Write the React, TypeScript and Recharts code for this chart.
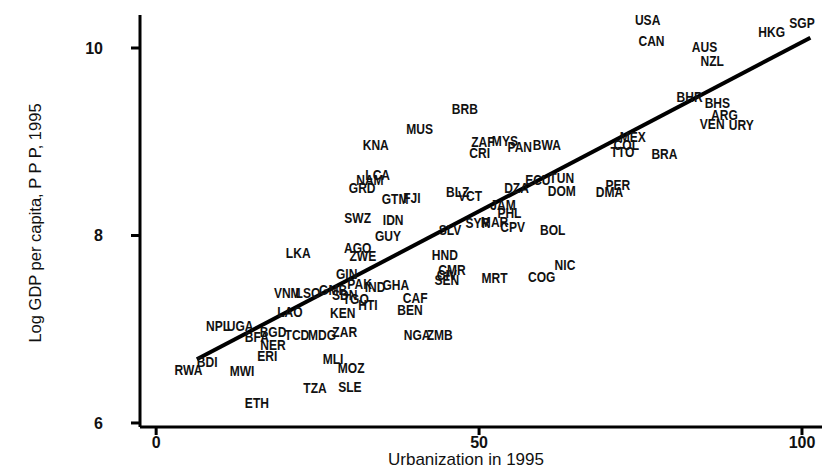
import { ComposedChart, Scatter, Line, XAxis, YAxis } from 'recharts';

// Country codes placed at (urbanization %, log GDP per capita PPP), 1995
const codes = [
  'USA', 'CAN', 'AUS', 'NZL', 'HKG', 'SGP', 'BHR', 'BHS', 'ARG', 'VEN',
  'URY', 'MEX', 'COL', 'TTO', 'BRA', 'PER', 'DMA', 'BRB', 'MUS', 'KNA',
  'ZAF', 'MYS', 'CRI', 'PAN', 'BWA', 'LCA', 'NAM', 'GRD', 'GTM', 'FJI',
  'BLZ', 'VCT', 'DZA', 'ECU', 'TUN', 'DOM', 'JAM', 'PHL', 'CPV', 'SYR',
  'MAR', 'SLV', 'BOL', 'SWZ', 'IDN', 'GUY', 'LKA', 'AGO', 'ZWE', 'HND',
  'CMR', 'CIV', 'SEN', 'MRT', 'COG', 'NIC', 'CAF', 'BEN', 'GIN', 'VNM',
  'LSO', 'GMB', 'PAK', 'IND', 'GHA', 'SDN', 'TGO', 'HTI', 'KEN', 'LAO',
  'NPL', 'UGA', 'BFA', 'BGD', 'TCD', 'MDG', 'ZAR', 'NER', 'ERI', 'BDI',
  'RWA', 'MWI', 'MLI', 'MOZ', 'SLE', 'TZA', 'ETH', 'NGA', 'ZMB',
];

const urbanization = [
  76.1, 76.7, 84.9, 86.1, 95.3, 100.0, 82.6, 86.9, 88.0, 86.1,
  90.6, 73.8, 72.8, 72.2, 78.7, 71.5, 70.2, 47.8, 40.8, 34.0,
  50.6, 54.0, 50.1, 56.3, 60.5, 34.3, 33.1, 31.9, 37.0, 39.6,
  46.7, 48.6, 55.8, 59.1, 62.8, 62.8, 53.7, 54.7, 55.2, 49.8,
  52.4, 45.5, 61.4, 31.2, 36.7, 35.9, 22.0, 31.2, 32.0, 44.7,
  45.8, 45.0, 45.0, 52.4, 59.7, 63.3, 40.1, 39.3, 29.5, 20.3,
  23.5, 27.4, 31.5, 33.9, 37.1, 29.2, 30.9, 32.8, 28.9, 20.7,
  9.6, 13.0, 15.6, 18.1, 21.8, 25.7, 29.2, 18.1, 17.2, 7.9,
  5.0, 13.3, 27.4, 30.2, 30.0, 24.6, 15.6, 40.4, 43.9,
];

const logGdp = [
  10.30, 10.07, 10.01, 9.86, 10.17, 10.27, 9.48, 9.41, 9.29, 9.19,
  9.18, 9.05, 8.97, 8.89, 8.87, 8.54, 8.46, 9.35, 9.14, 8.97,
  9.00, 9.01, 8.88, 8.94, 8.97, 8.65, 8.59, 8.51, 8.39, 8.40,
  8.46, 8.42, 8.51, 8.59, 8.61, 8.47, 8.33, 8.24, 8.09, 8.13,
  8.14, 8.06, 8.06, 8.19, 8.17, 7.99, 7.81, 7.87, 7.78, 7.79,
  7.63, 7.58, 7.53, 7.55, 7.56, 7.69, 7.33, 7.21, 7.59, 7.39,
  7.39, 7.42, 7.48, 7.45, 7.47, 7.37, 7.32, 7.26, 7.17, 7.18,
  7.03, 7.03, 6.92, 6.97, 6.94, 6.94, 6.97, 6.83, 6.71, 6.65,
  6.57, 6.55, 6.68, 6.59, 6.38, 6.37, 6.21, 6.94, 6.94,
];

// fitted regression line endpoints
const fitUrban = [6.3, 101.3];
const fitGdp = [6.68, 10.11];

const xTicks = [0, 50, 100];
const yTicks = [6, 8, 10];

const points = codes.map((code, i) => ({ code, x: urbanization[i], y: logGdp[i] }));
const fitLine = fitUrban.map((x, i) => ({ x, y: fitGdp[i] }));

const FONT = "'Liberation Sans', Arial, Helvetica, sans-serif";

// bold codes squeezed horizontally, like a narrow Helvetica
const CodeLabel = (props: any) => {
  const { cx, cy, payload } = props;
  return (
    <text transform={`translate(${cx}, ${cy}) scale(0.86, 1)`} dy="0.36em" textAnchor="middle"
      fontSize={14} fontWeight={700} fontFamily={FONT} fill="#111">
      {payload.code}
    </text>
  );
};

const XTitle = (props: any) => {
  const vb = props.viewBox;
  return (
    <text x={vb.x + 326} y={vb.y + 38} textAnchor="middle" fontSize={17}
      fontFamily={FONT} fill="#111">
      Urbanization in 1995
    </text>
  );
};

const YTitle = (props: any) => {
  const vb = props.viewBox;
  return (
    <text transform={`translate(${vb.x + 41}, ${vb.y + 208}) rotate(-90)`} textAnchor="middle"
      fontSize={16.5} fontFamily={FONT} fill="#111">
      Log GDP per capita, P P P, 1995
    </text>
  );
};

const axisLine = { stroke: '#000', strokeWidth: 3 };
const tickStyle = { fontSize: 16, fontWeight: 700, fill: '#111', fontFamily: FONT };

export default function App() {
  return (
    <div style={{ position: 'absolute', left: 0, top: 0, width: 828, height: 468, background: '#fff' }}>
      <ComposedChart width={828} height={468} margin={{ top: 15, right: 6, bottom: 0, left: 0 }}>
        <XAxis
          type="number"
          dataKey="x"
          domain={[-2.5, 103.1]}
          ticks={xTicks}
          allowDataOverflow
          height={41}
          axisLine={axisLine}
          tickLine={axisLine}
          tickSize={8}
          tickMargin={2}
          tick={tickStyle}
          label={{ content: XTitle }}
        />
        <YAxis
          type="number"
          dataKey="y"
          domain={[5.957, 10.352]}
          ticks={yTicks}
          allowDataOverflow
          width={140}
          axisLine={axisLine}
          tickLine={axisLine}
          tickSize={9}
          tickMargin={28}
          tick={tickStyle}
          label={{ content: YTitle }}
        />
        <Scatter data={points} dataKey="y" shape={CodeLabel} isAnimationActive={false} />
        <Line
          data={fitLine}
          dataKey="y"
          type="linear"
          stroke="#000"
          strokeWidth={4}
          dot={false}
          activeDot={false}
          isAnimationActive={false}
        />
      </ComposedChart>
    </div>
  );
}
